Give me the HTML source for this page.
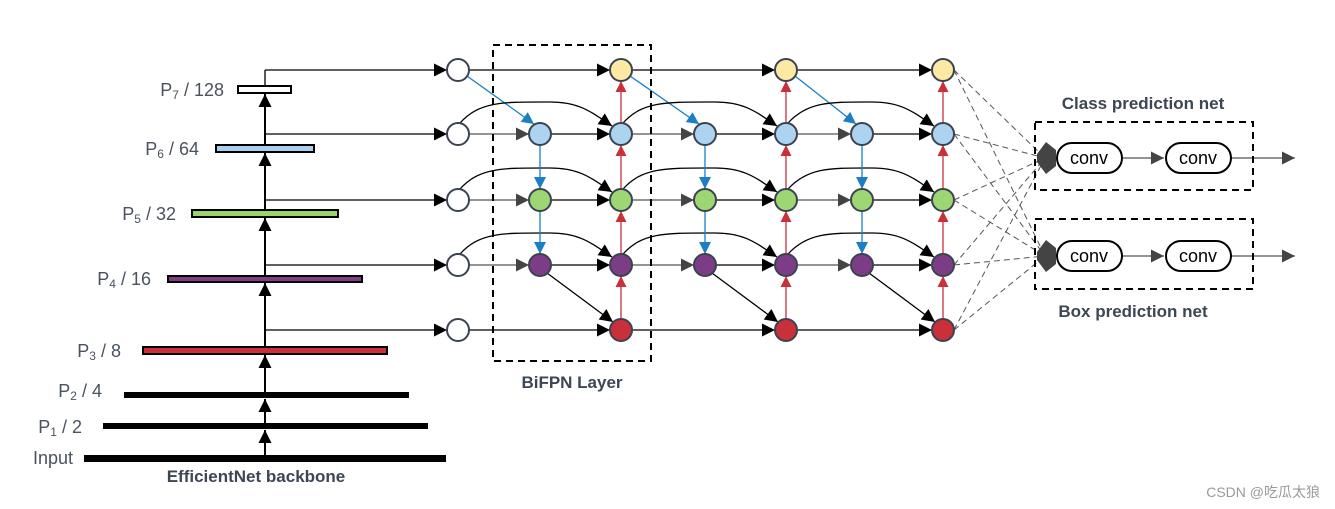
<!DOCTYPE html>
<html><head><meta charset="utf-8"><style>
html,body{margin:0;padding:0;background:#fff;}
svg{display:block;font-family:"Liberation Sans","Noto Sans CJK SC",sans-serif;}
.lbl{font-size:18px;fill:#4a5260;}
.b{font-weight:bold;font-size:17px;fill:#3d4654;}
</style></head><body>
<svg id="s" width="1335" height="509" viewBox="0 0 1335 509" xmlns="http://www.w3.org/2000/svg">
<defs>
<marker id="ak" viewBox="0 0 10 10" refX="10" refY="5" markerWidth="17" markerHeight="13" markerUnits="userSpaceOnUse" orient="auto"><path d="M0,0L10,5L0,10z" fill="#000"/></marker>
<marker id="ag" viewBox="0 0 10 10" refX="10" refY="5" markerWidth="17" markerHeight="13" markerUnits="userSpaceOnUse" orient="auto"><path d="M0,0L10,5L0,10z" fill="#444"/></marker>
<marker id="ab" viewBox="0 0 10 10" refX="10" refY="5" markerWidth="15" markerHeight="12" markerUnits="userSpaceOnUse" orient="auto"><path d="M0,0L10,5L0,10z" fill="#1a7fc4"/></marker>
<marker id="ar" viewBox="0 0 10 10" refX="10" refY="5" markerWidth="15" markerHeight="11" markerUnits="userSpaceOnUse" orient="auto"><path d="M0,0L10,5L0,10z" fill="#c9303a"/></marker>
<marker id="au" viewBox="0 0 10 10" refX="10" refY="5" markerWidth="18" markerHeight="13" markerUnits="userSpaceOnUse" orient="auto"><path d="M0,0L10,5L0,10z" fill="#000"/></marker>
</defs>
<g id="lines"></g>
<g id="nodes"></g>
<rect x="238" y="86" width="53" height="7" fill="#fff" stroke="#000" stroke-width="2"/>
<rect x="216" y="145" width="98" height="7" fill="#a9d0ef" stroke="#000" stroke-width="2"/>
<rect x="192" y="210" width="146" height="7" fill="#9bd46d" stroke="#000" stroke-width="2"/>
<rect x="168" y="276" width="194" height="6" fill="#7f3f87" stroke="#000" stroke-width="2"/>
<rect x="143" y="347" width="244" height="7" fill="#c9303a" stroke="#000" stroke-width="2"/>
<rect x="124" y="392" width="285" height="6" fill="#000"/>
<rect x="103" y="423" width="325" height="6" fill="#000"/>
<rect x="84" y="455" width="362" height="7" fill="#000"/>
<text class="lbl" x="224" y="96" text-anchor="end">P<tspan font-size="12" dy="3">7</tspan><tspan dy="-3"> / 128</tspan></text>
<text class="lbl" x="199" y="155" text-anchor="end">P<tspan font-size="12" dy="3">6</tspan><tspan dy="-3"> / 64</tspan></text>
<text class="lbl" x="176" y="220" text-anchor="end">P<tspan font-size="12" dy="3">5</tspan><tspan dy="-3"> / 32</tspan></text>
<text class="lbl" x="151" y="285" text-anchor="end">P<tspan font-size="12" dy="3">4</tspan><tspan dy="-3"> / 16</tspan></text>
<text class="lbl" x="121" y="357" text-anchor="end">P<tspan font-size="12" dy="3">3</tspan><tspan dy="-3"> / 8</tspan></text>
<text class="lbl" x="102" y="397" text-anchor="end">P<tspan font-size="12" dy="3">2</tspan><tspan dy="-3"> / 4</tspan></text>
<text class="lbl" x="82" y="433" text-anchor="end">P<tspan font-size="12" dy="3">1</tspan><tspan dy="-3"> / 2</tspan></text>
<text class="lbl" x="73" y="464" text-anchor="end">Input</text>
<text class="b" x="256" y="482" text-anchor="middle">EfficientNet backbone</text>
<rect x="493" y="45" width="158" height="316" fill="none" stroke="#000" stroke-width="2" stroke-dasharray="7,5"/>
<text class="b" x="572" y="388" text-anchor="middle">BiFPN Layer</text>
<rect x="1035" y="122" width="218" height="68" fill="none" stroke="#000" stroke-width="2" stroke-dasharray="7,5"/>
<rect x="1035" y="219" width="218" height="70" fill="none" stroke="#000" stroke-width="2" stroke-dasharray="7,5"/>
<text class="b" x="1143" y="109" text-anchor="middle">Class prediction net</text>
<text class="b" x="1133" y="317" text-anchor="middle">Box prediction net</text>
<g id="heads"></g>
<rect x="1057" y="143" width="65" height="30" rx="15" fill="#fff" stroke="#000" stroke-width="2"/>
<rect x="1166" y="143" width="65" height="30" rx="15" fill="#fff" stroke="#000" stroke-width="2"/>
<rect x="1057" y="241" width="65" height="30" rx="15" fill="#fff" stroke="#000" stroke-width="2"/>
<rect x="1166" y="241" width="65" height="30" rx="15" fill="#fff" stroke="#000" stroke-width="2"/>
<text x="1089" y="164" font-size="18" text-anchor="middle">conv</text>
<text x="1198" y="164" font-size="18" text-anchor="middle">conv</text>
<text x="1089" y="262" font-size="18" text-anchor="middle">conv</text>
<text x="1198" y="262" font-size="18" text-anchor="middle">conv</text>
<text x="1320" y="497" font-size="14" fill="#999" text-anchor="end">CSDN @吃瓜太狼</text>
</svg>
<script>
var NS="http://www.w3.org/2000/svg";
var L=document.getElementById("lines"),N=document.getElementById("nodes"),H=document.getElementById("heads");
function el(p,t,a){var e=document.createElementNS(NS,t);for(var k in a)e.setAttribute(k,a[k]);p.appendChild(e);return e;}
function ln(x1,y1,x2,y2,c,m,w,d){var a={x1:x1,y1:y1,x2:x2,y2:y2,stroke:c,"stroke-width":w||1.3};if(m)a["marker-end"]="url(#"+m+")";if(d)a["stroke-dasharray"]=d;el(L,"line",a);}
var R=11,Y=[70,134,200,265,330];
var cols={I:458,A:540,B:621,C:705,D:786,E:862,F:943};
var sx=265;
ln(sx,455,sx,430,"#000","au",2);ln(sx,423,sx,399,"#000","au",2);ln(sx,392,sx,355,"#000","au",2);
ln(sx,347,sx,283,"#000","au",2);ln(sx,276,sx,218,"#000","au",2);ln(sx,210,sx,153,"#000","au",2);ln(sx,145,sx,94,"#000","au",2);
ln(sx,86,sx,70,"#000",null,1.3);
for(var i=0;i<5;i++){var yy=Y[i];ln(sx,yy,cols.I-R,yy,"#000","ak");}
var blocks=[["I","A","B"],["B","C","D"],["D","E","F"]];
blocks.forEach(function(b){var l=cols[b[0]],m=cols[b[1]],r=cols[b[2]];
 ln(l+R,Y[0],r-R,Y[0],"#000","ak");ln(l+R,Y[4],r-R,Y[4],"#000","ak");
 ln(l+R-2,Y[0]+6,m-6,Y[1]-10,"#1a7fc4","ab");
 for(var i=1;i<4;i++){ln(l+R,Y[i],m-R,Y[i],"#555","ag");ln(m+R,Y[i],r-R,Y[i],"#000","ak");
  el(L,"path",{d:"M"+(l+2)+","+(Y[i]-11)+" C"+(l+22)+","+(Y[i]-33)+" "+(l+45)+","+(Y[i]-32)+" "+(m+10)+","+(Y[i]-32)+" C"+(m+40)+","+(Y[i]-32)+" "+(r-30)+","+(Y[i]-22)+" "+(r-9)+","+(Y[i]-8),fill:"none",stroke:"#000","stroke-width":1.3,"marker-end":"url(#ak)"});}
 ln(m,Y[1]+R,m,Y[2]-R,"#1a7fc4","ab");ln(m,Y[2]+R,m,Y[3]-R,"#1a7fc4","ab");
 ln(m+7,Y[3]+8,r-8,Y[4]-8,"#000","ak");
 for(var i=4;i>0;i--)ln(r,Y[i]-R,r,Y[i-1]+R,"#c9303a","ar");
});
var fx=cols.F;[158,256].forEach(function(hy){for(var i=0;i<5;i++)ln(fx+R,Y[i],1045,hy,"#555",null,1,"6,4");});
[158,256].forEach(function(hy){
 el(H,"path",{d:"M1037,"+(hy-4)+" L1046,"+(hy-16)+" L1056,"+(hy-8)+" L1056,"+(hy+8)+" L1046,"+(hy+16)+" L1037,"+(hy+4)+"z",fill:"#444"});
 ln(1122,hy,1164,hy,"#555","ag");ln(1231,hy,1295,hy,"#555","ag");
});
var fill=["#fde9a3","#acd3ef","#9ed674","#7d3d86","#c9303a"];
for(var i=0;i<5;i++){el(N,"circle",{cx:cols.I,cy:Y[i],r:R,fill:"#fff",stroke:"#3a4350","stroke-width":2});}
blocks.forEach(function(b){var m=cols[b[1]],r=cols[b[2]];
 for(var i=1;i<4;i++)el(N,"circle",{cx:m,cy:Y[i],r:R,fill:fill[i],stroke:"#3a4350","stroke-width":2});
 for(var i=0;i<5;i++)el(N,"circle",{cx:r,cy:Y[i],r:R,fill:fill[i],stroke:"#3a4350","stroke-width":2});
});
</script>
</body></html>
